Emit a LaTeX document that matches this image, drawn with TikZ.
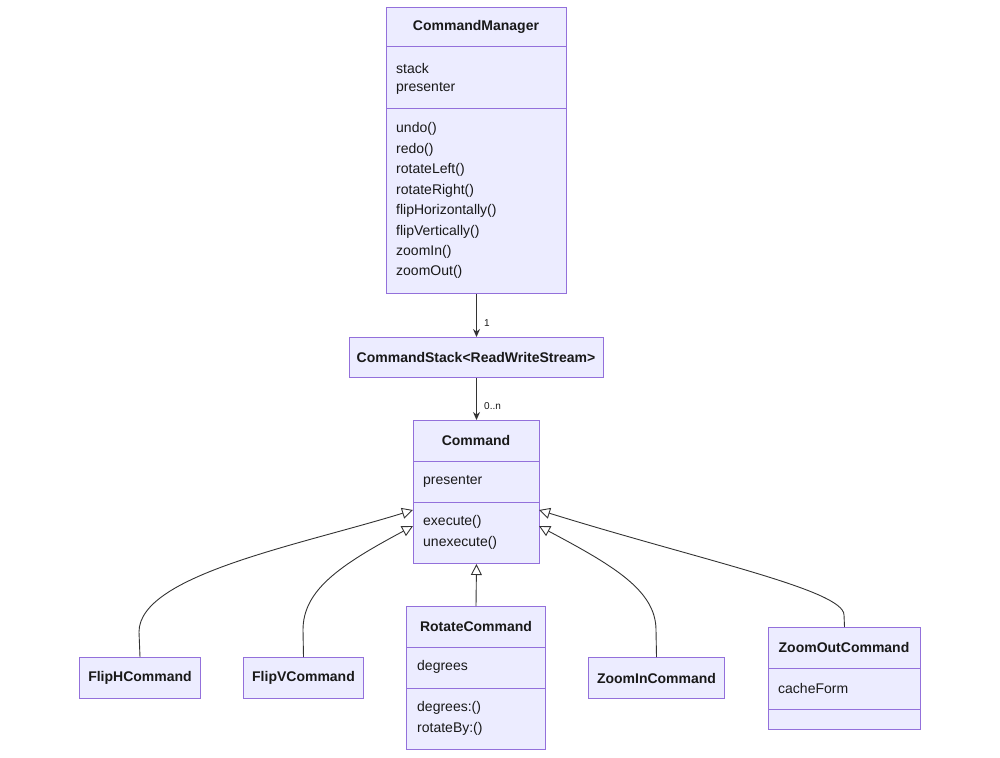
\documentclass[tikz,border=0pt]{standalone}
\usepackage{fontspec}
\setmainfont{Liberation Sans}
\usetikzlibrary{arrows.meta}
\definecolor{bfill}{HTML}{ECECFF}
\definecolor{bdraw}{HTML}{9370DB}
\definecolor{ln}{HTML}{333333}
\begin{document}
\begin{tikzpicture}[x=1pt,y=-1pt,
 box/.style={draw=bdraw,fill=bfill,line width=1pt,anchor=north west,inner sep=0pt},
 t/.style={anchor=west,font=\fontsize{14}{16}\selectfont,text=black!90,inner sep=0pt},
 h/.style={font=\fontsize{14}{16}\selectfont\bfseries,text=black!90,inner sep=0pt},
 dv/.style={draw=bdraw,line width=1pt},
 con/.style={draw=ln,line width=0.9pt},
 inh/.style={con,-{Triangle[open,length=11pt,width=11pt]}},
 lab/.style={font=\fontsize{10}{12}\selectfont,text=black!90,anchor=west,inner sep=0pt}]
\useasboundingbox (0,0) rectangle (1000,757);
% CommandManager
\node[box,minimum width=180pt,minimum height=286pt] (cm) at (386,7) {};
\node[h] (cmt) at (476,27) {CommandManager};
\draw[dv] (386,47)--(566,47) (386,109)--(566,109);
\foreach \s/\y in {stack/68,presenter/88,undo()/129,redo()/150,rotateLeft()/170,rotateRight()/191,flipHorizontally()/211,flipVertically()/232,zoomIn()/252,zoomOut()/272}
 \node[t] at (396,\y) {\s};
% CommandStack
\node[box,minimum width=254pt,minimum height=40pt] (cs) at (349,337) {};
\node[h] (cst) at (476,357) {CommandStack<ReadWriteStream>};
% Command
\node[box,minimum width=126pt,minimum height=143pt] (cmd) at (413,420) {};
\node[h] (cmdt) at (476,440) {Command};
\draw[dv] (413,461)--(539,461) (413,502)--(539,502);
\node[t] at (423,481) {presenter};
\node[t] at (423,522) {execute()};
\node[t] at (423,543) {unexecute()};
% RotateCommand
\node[box,minimum width=139pt,minimum height=143pt] (rc) at (406,606) {};
\node[h] (rct) at (476,626) {RotateCommand};
\draw[dv] (406,647)--(545,647) (406,688)--(545,688);
\node[t] at (417,667) {degrees};
\node[t] at (417,708) {degrees:()};
\node[t] at (417,729) {rotateBy:()};
% FlipH
\node[box,minimum width=121pt,minimum height=41pt] (fh) at (79,657) {};
\node[h] at (fh.center) {FlipHCommand};
\node[box,minimum width=120pt,minimum height=41pt] (fv) at (243,657) {};
\node[h] at (fv.center) {FlipVCommand};
\node[box,minimum width=136pt,minimum height=41pt] (zi) at (588,657) {};
\node[h] at (zi.center) {ZoomInCommand};
% ZoomOut
\node[box,minimum width=152pt,minimum height=102pt] (zo) at (768,627) {};
\node[h] at (844,647) {ZoomOutCommand};
\draw[dv] (768,668)--(920,668) (768,709)--(920,709);
\node[t] at (778,688) {cacheForm};
% connectors
\draw[con,-{Stealth[length=8pt,width=7pt]}] (cm.south)--(cs.north);
\node[lab] at (484,323) {1};
\draw[con,-{Stealth[length=8pt,width=7pt]}] (cs.south)--(cmd.north);
\node[lab] at (484,406) {0..n};
\coordinate (a1) at (413,510);
\coordinate (a2) at (413,526);
\coordinate (a3) at (539,526);
\coordinate (a4) at (539,510);
\draw[inh] (fh.north)--(139,632) .. controls (139,575) and (300,545) .. (a1);
\draw[inh] (fv.north)--(303,630) .. controls (303,590) and (340,565) .. (a2);
\draw[inh] (rc.north)--(cmd.south);
\draw[inh] (zi.north)--(656,630) .. controls (656,590) and (612,565) .. (a3);
\draw[inh] (zo.north)--(844,615) .. controls (844,590) and (700,560) .. (a4);
\end{tikzpicture}
\end{document}
